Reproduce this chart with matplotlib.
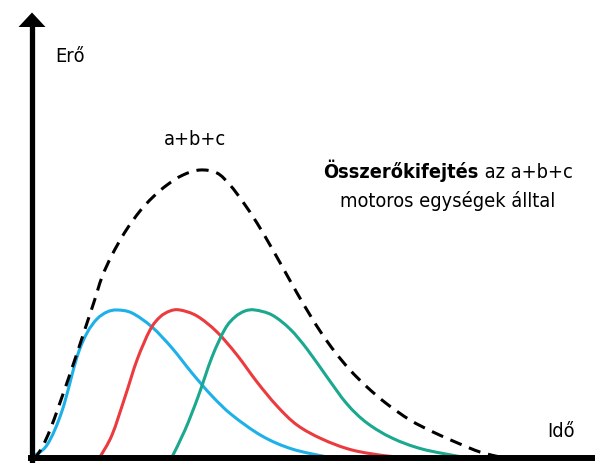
import matplotlib
matplotlib.use("Agg")
import matplotlib.pyplot as plt
from matplotlib.patches import Polygon, PathPatch
from matplotlib.path import Path

# ---- data (arbitrary units: time vs force) ----
blue_t = [0, 15, 30, 45, 55, 65, 75, 85, 100, 120, 140, 160, 180, 200, 230, 260, 295]
blue_f = [0, 12, 46, 100, 124, 138, 145, 147, 144, 130, 109, 84, 61, 42, 21, 8, 0]

red_t = [68, 80, 93, 105, 118, 128, 138, 148, 165, 185, 205, 225, 245, 265, 290, 320, 355, 375]
red_f = [0, 22, 60, 97, 127, 140, 146, 147, 141, 125, 102, 75, 51, 32, 18, 7, 1, 0]

teal_t = [140, 153, 166, 180, 193, 203, 213, 223, 240, 258, 275, 295, 315, 335, 360, 390, 430]
teal_f = [0, 27, 60, 100, 128, 140, 146, 147, 142, 128, 108, 80, 53, 34, 19, 8, 0]

sum_t = [0, 6, 18, 38, 53, 62, 70, 80, 93, 108, 121, 135, 151, 168, 185, 198, 211, 225,
         238, 251, 265, 278, 290, 303, 318, 335, 355, 378, 401, 428, 448, 468]
sum_f = [0, 3, 27, 83, 128, 155, 180, 202, 225, 246, 260, 272, 282, 287, 284, 272, 255, 234,
         212, 189, 164, 142, 123, 105, 87, 70, 53, 37, 25, 13, 5, 0]

y_label = "Erő"
x_label = "Idő"
sum_label = "a+b+c"
title_bold = "Összerőkifejtés"
title_rest = " az a+b+c"
title_line2 = "motoros egységek álltal"

BLUE = "#1DB0E9"
RED = "#EB3B3E"
TEAL = "#1AA88F"

FONT = ["DejaVu Sans"]
FS = 14.3
TXT = dict(family=FONT, fontsize=FS, fontstretch="condensed")

fig = plt.figure(figsize=(5.95, 4.63), dpi=100)
ax = fig.add_axes([0, 0, 1, 1])
ax.set_xlim(-32, 563)
ax.set_ylim(-6, 457)
ax.axis("off")


def smooth_path(xs, ys):
    """Smooth rendering of the read points: Catmull-Rom segments as cubic Beziers."""
    pts = list(zip(xs, ys))
    n = len(pts)
    verts = [pts[0]]
    codes = [Path.MOVETO]
    for i in range(n - 1):
        p0 = pts[i - 1] if i > 0 else pts[i]
        p1 = pts[i]
        p2 = pts[i + 1]
        p3 = pts[i + 2] if i + 2 < n else pts[i + 1]
        c1 = (p1[0] + (p2[0] - p0[0]) / 6.0, p1[1] + (p2[1] - p0[1]) / 6.0)
        c2 = (p2[0] - (p3[0] - p1[0]) / 6.0, p2[1] - (p3[1] - p1[1]) / 6.0)
        verts += [c1, c2, p2]
        codes += [Path.CURVE4] * 3
    return Path(verts, codes)


lw = 2.2
for xs, ys, c in [(blue_t, blue_f, BLUE), (red_t, red_f, RED), (teal_t, teal_f, TEAL)]:
    ax.add_patch(PathPatch(smooth_path(xs, ys), facecolor="none", edgecolor=c, lw=lw,
                           joinstyle="round", capstyle="butt", zorder=3))
ax.add_patch(PathPatch(smooth_path(sum_t, sum_f), facecolor="none", edgecolor="black", lw=2.2,
                       linestyle=(0, (4.0, 2.6)), capstyle="butt", zorder=3))

# axes with arrow
ax.plot([0, 0], [-6, 431], color="black", lw=3.8, solid_capstyle="butt", zorder=5)
ax.add_patch(Polygon([(-13.5, 430), (13.5, 430), (0, 444.5)], closed=True,
                     facecolor="black", edgecolor="none", zorder=5))
ax.plot([-4, 563], [-1, -1], color="black", lw=4.3, solid_capstyle="butt", zorder=5)

# labels
ax.text(23, 395, y_label, ha="left", va="baseline", **TXT)
ax.text(515, 20, x_label, ha="left", va="baseline", **TXT)
ax.text(163, 312, sum_label, ha="center", va="baseline", **TXT)

# two-line annotation with bold first word
cx = 416
fig.canvas.draw()
r = fig.canvas.get_renderer()
t1 = ax.text(0, 279, title_bold, weight="bold", ha="left", va="baseline", **TXT)
t2 = ax.text(0, 279, title_rest, ha="left", va="baseline", **TXT)
inv = ax.transData.inverted()


def width_data(t):
    bb = t.get_window_extent(renderer=r)
    p0 = inv.transform((bb.x0, bb.y0))
    p1 = inv.transform((bb.x1, bb.y1))
    return p1[0] - p0[0]


w1 = width_data(t1)
w2 = width_data(t2)
x0 = cx - (w1 + w2) / 2
t1.set_x(x0)
t2.set_x(x0 + w1)
ax.text(cx, 250, title_line2, ha="center", va="baseline", **TXT)

fig.savefig("out.png", dpi=100)
